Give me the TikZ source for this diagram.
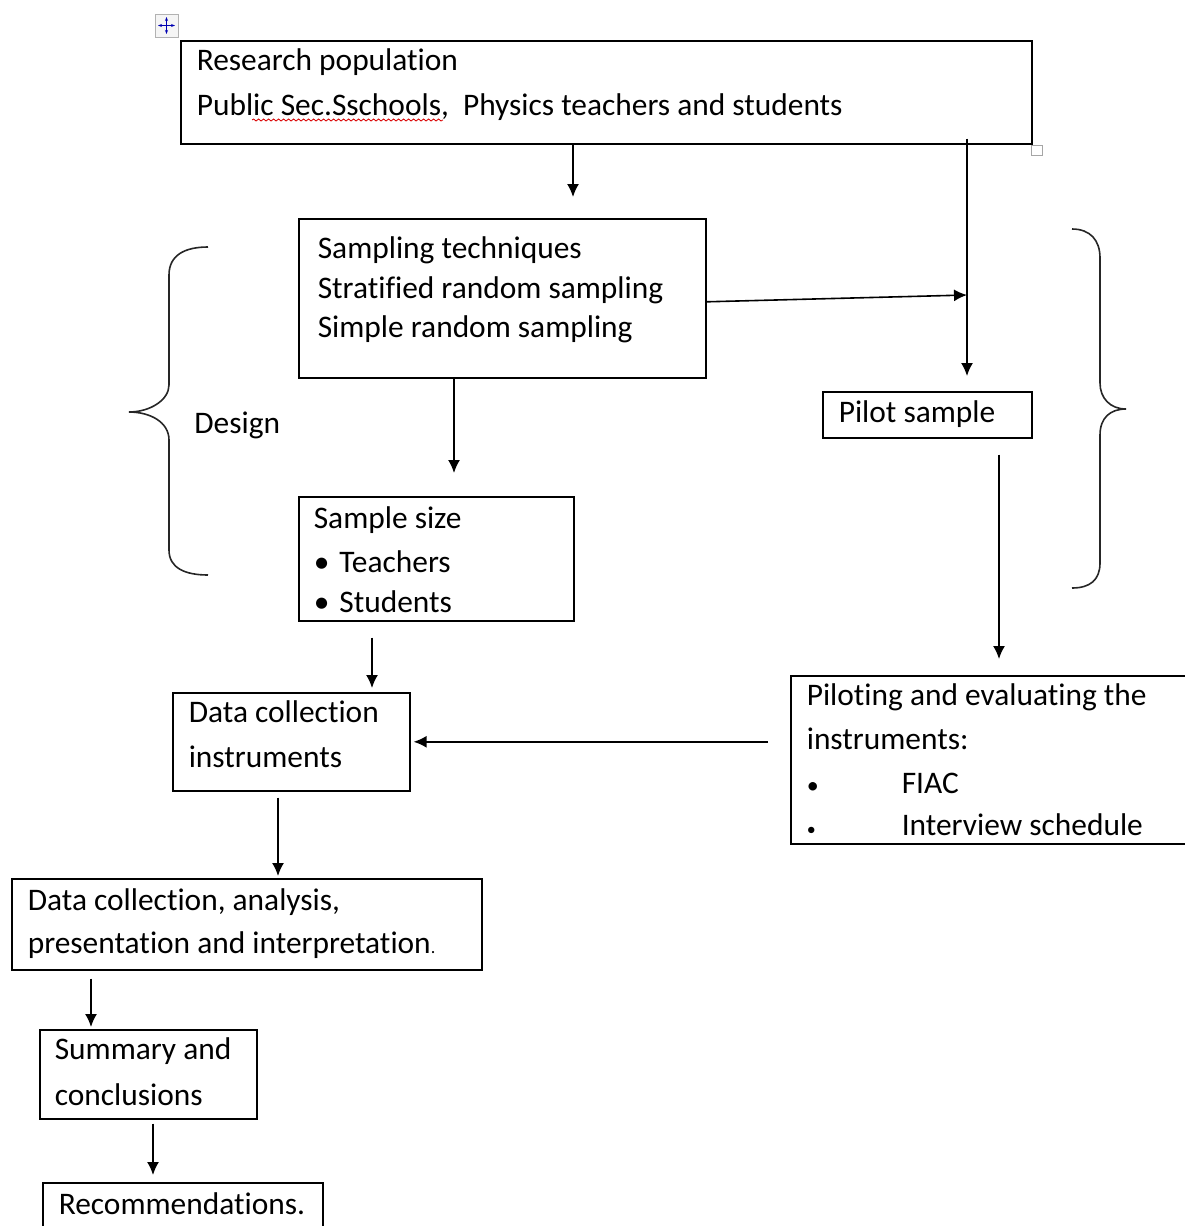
\documentclass[tikz,border=0pt]{standalone}
\usepackage{fontspec}
\setmainfont{Carlito}[Ligatures=NoCommon]
\usepackage{tikz}
\usetikzlibrary{arrows.meta}
\usetikzlibrary{decorations.pathmorphing}
% box text: height, width, first baseline, lines
\newcommand{\boxlines}[4]{\parbox[c][#1][t]{#2}{\raggedright\rule{0pt}{#3}#4}}

\begin{document}
\begin{tikzpicture}[x=0.5pt,y=-0.5pt,
  box/.style={draw=black,line width=0.8pt,anchor=north west,
    inner xsep=8pt,inner ysep=0pt,font=\fontsize{15.7}{22.5}\selectfont},
  arr/.style={black,line width=0.8pt,-{Latex[length=6.5pt,width=6pt]}},
  brace/.style={black!85,line width=0.8pt}]
\useasboundingbox (0,0) rectangle (1184,1226);

% word handles
\draw[gray!60,fill=gray!8] (155,14) rectangle (178,37);
\draw[blue!70!black,line width=0.4pt,{Stealth[length=2pt]}-{Stealth[length=2pt]}] (158,25.5) -- (175,25.5);
\draw[blue!70!black,line width=0.4pt,{Stealth[length=2pt]}-{Stealth[length=2pt]}] (166.5,17) -- (166.5,34);
\draw[gray!70,fill=white] (1031,145) rectangle (1042,155);

% boxes
\node[box] (pop) at (180,40) {\boxlines{51.5pt}{409.5pt}{15pt}
  {Research population\\Public Sec.Sschools,\ \ Physics teachers and students}};
\node[box,inner xsep=9.5pt,font=\fontsize{15.7}{19.75}\selectfont] (samp) at (298,218)
  {\boxlines{79.5pt}{184.5pt}{20pt}
  {Sampling techniques\\Stratified random sampling\\Simple random sampling}};
\node[box] (pilot) at (822,391) {\boxlines{23pt}{88.5pt}{15.5pt}{Pilot sample}};
\node[box,inner xsep=7.5pt,font=\fontsize{15.7}{22}\selectfont] (size) at (298,496)
  {\boxlines{62pt}{122.5pt}{16pt}
  {Sample size\\\textbullet\hspace{5pt}Teachers\\[-2pt]\textbullet\hspace{5pt}Students}};
\node[box] (dci) at (172,692) {\boxlines{49pt}{102.5pt}{15pt}
  {Data collection\\instruments}};
\node[box,font=\fontsize{15.7}{22}\selectfont] (eval) at (790,675) {\boxlines{84pt}{184pt}{15pt}
  {Piloting and evaluating the\\instruments:\\
   \makebox[47.5pt][l]{\large\textbullet}FIAC\\[-1pt]
   \makebox[47.5pt][l]{\small\textbullet}Interview schedule}};
\node[box,font=\fontsize{15.7}{21.5}\selectfont] (anal) at (11,878) {\boxlines{45.5pt}{219pt}{16pt}
  {Data collection, analysis,\\presentation and interpretation{\small.}}};
\node[box,inner xsep=7.5pt,font=\fontsize{15.7}{23}\selectfont] (summ) at (39,1029)
  {\boxlines{44.5pt}{93.5pt}{15pt}{Summary and\\conclusions}};
\node[box] (recom) at (42,1182) {\boxlines{30pt}{124pt}{16pt}{Recommendations.}};
\node[anchor=base west,inner sep=0pt,font=\fontsize{15.7}{22.5}\selectfont] (design) at (194,433) {Design};

% spelling mark
\draw[red!85!black,line width=0.4pt,decorate,
  decoration={snake,amplitude=0.5pt,segment length=2.5pt}] (252,120) -- (443,120);

% braces
\draw[brace] (208,247) .. controls (185,247) and (169,255) .. (169,275) -- (169,385)
  .. controls (169,400) and (150,412) .. (129,412)
  .. controls (150,412) and (169,422) .. (169,440) -- (169,550)
  .. controls (169,568) and (185,575) .. (208,575);
\draw[brace] (1072,229) .. controls (1090,229) and (1100,240) .. (1100,258) -- (1100,383)
  .. controls (1100,398) and (1110,409) .. (1126,409)
  .. controls (1110,409) and (1100,418) .. (1100,435) -- (1100,563)
  .. controls (1100,580) and (1090,588) .. (1072,588);

% arrow columns
\coordinate (c1) at (573,0);
\coordinate (c2) at (967,0);
\coordinate (c3) at (454,0);
\coordinate (c4) at (999,0);
\coordinate (c5) at (372,0);
\coordinate (c6) at (278,0);
\coordinate (c7) at (91,0);
\coordinate (c8) at (153,0);
\coordinate (join) at (967,295);

\draw[arr,shorten >=10.5pt] (pop.south -| c1) -- (samp.north -| c1);
\draw[arr,shorten <=-3pt,shorten >=7.5pt] (pop.south -| c2) -- (pilot.north -| c2);
\draw[arr] ([yshift=-1.75pt]samp.east) -- (join);
\draw[arr,shorten >=11.5pt] (samp.south -| c3) -- (size.north -| c3);
\draw[arr,shorten <=8pt,shorten >=8pt] (pilot.south -| c4) -- (eval.north -| c4);
\draw[arr,shorten <=8pt,shorten >=2pt] (size.south -| c5) -- (dci.north -| c5);
\draw[arr,shorten <=11pt,shorten >=1.5pt] (eval.west |- dci.east) -- (dci.east);
\draw[arr,shorten <=3pt,shorten >=1pt] (dci.south -| c6) -- (anal.north -| c6);
\draw[arr,shorten <=4pt,shorten >=1pt] (anal.south -| c7) -- (summ.north -| c7);
\draw[arr,shorten <=2pt,shorten >=3.5pt] (summ.south -| c8) -- (recom.north -| c8);
\end{tikzpicture}
\end{document}
